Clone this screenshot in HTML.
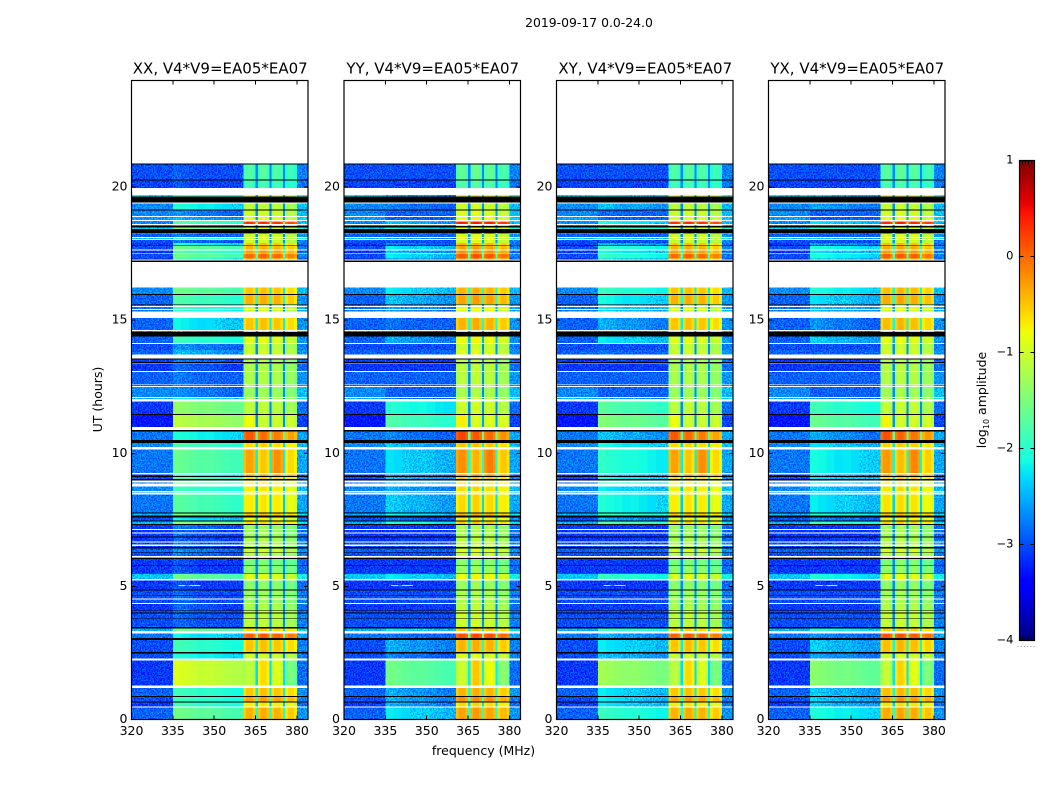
<!DOCTYPE html>
<html lang="en">
<head>
<meta charset="utf-8">
<title>2019-09-17 0.0-24.0</title>
<style>
html,body{margin:0;padding:0;background:#fff;}
svg{display:block;font-family:"DejaVu Sans","Liberation Sans",sans-serif;fill:#000;}
text{font-size:12.5px;}
</style>
</head>
<body>
<svg id="chart" width="1050" height="800" viewBox="0 0 1050 800" xmlns="http://www.w3.org/2000/svg">
  <defs>
    <filter id="grain" filterUnits="userSpaceOnUse" x="0" y="0" width="1050" height="800" color-interpolation-filters="sRGB">
      <feTurbulence type="fractalNoise" baseFrequency="0.75 0.65" numOctaves="1" seed="4" result="t"/>
      <feColorMatrix in="t" type="matrix" values="0 0 0 0 0.5  2.6 0 0 0 -0.8  0 0 0 0 0.5  0 0 0 0 1" result="n"/>
      <feComposite in="SourceGraphic" in2="n" operator="arithmetic" k1="0" k2="1" k3="0.5" k4="-0.25" result="m"/>
      <feComposite in="m" in2="SourceGraphic" operator="in"/>
    </filter>
    <linearGradient id="cb-gradient" x1="0" y1="1" x2="0" y2="0"></linearGradient>
  </defs>
  <rect x="0" y="0" width="1050" height="800" fill="#fff"/>
  <text x="589" y="27" text-anchor="middle" style="font-size:12.4px">2019-09-17 0.0-24.0</text>
  <text transform="translate(102,399.5) rotate(-90)" text-anchor="middle">UT (hours)</text>
  <text x="483.5" y="755" text-anchor="middle">frequency (MHz)</text>
  <text transform="translate(986,400) rotate(-90)" text-anchor="middle">log<tspan dy="3" style="font-size:8px">10</tspan><tspan dy="-3"> amplitude</tspan></text>
  <g id="noise-layer" filter="url(#grain)" shape-rendering="crispEdges"></g>
  <g id="clean-layer" shape-rendering="crispEdges"></g>
  <g id="frame-layer"></g>
  <g id="colorbar"></g>
</svg>
<script>
// Panel titles and axes
const panelNames = ["XX, V4*V9=EA05*EA07", "YY, V4*V9=EA05*EA07", "XY, V4*V9=EA05*EA07", "YX, V4*V9=EA05*EA07"];
const freqTicks = [320, 335, 350, 365, 380];
const utTicks = [0, 5, 10, 15, 20];
const colorbarTicks = [-4, -3, -2, -1, 0, 1];

// W = no data (white), K = flagged row (black)
const W = null;
const K = -9;

// Upper edge (UT hours) of each time band; each band runs down to the next entry, last band ends at 0
const utTop = [
20.88,20.85,20.29,20.24,19.96,19.70,19.64,19.42,19.38,19.15,
19.12,18.91,18.87,18.76,18.72,18.68,18.61,18.57,18.53,18.48,
18.42,18.28,18.23,18.12,18.09,18.05,18.01,17.89,17.81,17.78,
17.65,17.61,17.52,17.50,17.31,17.27,17.24,17.18,16.22,15.98,
15.94,15.60,15.58,15.53,15.50,15.41,15.38,15.32,15.08,14.62,
14.59,14.55,14.38,14.14,14.10,13.87,13.70,13.55,13.53,13.42,
13.38,13.35,13.08,13.05,12.59,12.56,12.52,12.48,12.11,12.07,
12.03,11.95,11.47,11.43,10.98,10.88,10.81,10.49,10.38,10.23,
10.15,9.25,9.21,9.14,9.10,9.04,8.98,8.91,8.87,8.76,
8.59,8.55,8.52,8.46,7.78,7.74,7.67,7.59,7.48,7.44,
7.35,7.31,7.16,7.12,7.03,6.99,6.88,6.84,6.69,6.65,
6.58,6.52,6.47,6.43,6.30,6.28,6.14,6.09,6.06,6.03,
5.81,5.78,5.51,5.48,5.28,5.23,4.89,4.85,4.68,4.65,
4.54,4.50,4.37,4.33,4.10,4.07,4.01,3.98,3.82,3.80,
3.48,3.42,3.33,3.23,3.06,2.99,2.54,2.48,2.29,2.22,
1.28,1.18,0.88,0.85,0.68,0.64,0.49,0.45];

// log10 amplitude of the 320-335 MHz band per time band
const lowBand = [
K,-3.0,K,-3.05,W,-2.3,K,W,-2.7,K,
-2.7,W,-2.6,W,-2.6,-2.7,W,-2.9,K,-2.3,
K,-2.7,-2.9,W,-2.4,W,-3.0,-3.1,K,-3.0,
W,-3.1,W,-3.0,-3.3,W,K,W,-2.7,K,
-2.9,K,-2.9,W,-2.8,W,-2.8,W,-2.9,W,
-2.8,K,-2.9,W,-3.0,-2.9,W,K,-3.1,K,
W,-3.1,W,-2.9,W,-2.9,W,-2.7,W,-2.5,
W,-3.1,K,-3.3,W,K,-2.8,K,-2.7,W,
-2.8,W,-3.3,K,-3.0,K,W,-2.8,W,-2.7,
W,-2.6,W,-2.8,K,-2.5,K,-3.0,K,-2.5,
K,-3.1,W,-3.1,W,-3.1,K,-3.1,W,-3.0,
W,-3.0,K,-2.9,K,-3.0,W,-3.1,K,-3.1,
K,-3.1,K,-2.4,W,-3.1,K,-3.0,K,-3.0,
W,-3.0,W,-3.1,K,-3.0,K,-3.0,K,-3.0,
K,-2.5,W,-2.8,K,-3.0,K,-3.0,W,-3.1,
W,-2.9,K,-3.0,K,-3.1,W,-2.9];

// log10 amplitude of the 335-360 MHz band per time band
const midBand = [
K,-3.05,K,-3.1,W,-2.0,K,W,-2.2,K,
-2.8,W,-2.6,W,-1.7,-1.9,W,-2.8,K,-1.6,
K,-2.7,-2.9,W,-2.0,W,-2.9,-2.2,K,-1.7,
W,-1.9,W,-1.7,-2.2,W,K,W,-1.7,K,
-1.9,K,-2.0,W,-2.0,W,-2.1,W,-2.3,W,
-2.7,K,-2.0,W,-2.8,-2.6,W,K,-2.9,K,
W,-3.0,W,-2.9,W,-2.8,W,-2.8,W,-2.3,
W,-1.5,K,-1.25,W,K,-2.2,K,-1.9,W,
-1.75,W,-2.2,K,-1.9,K,W,-1.8,W,-2.0,
W,-2.0,W,-1.85,K,-1.6,K,-2.3,K,-1.5,
K,-2.9,W,-3.0,W,-3.0,K,-3.0,W,-2.9,
W,-3.0,K,-2.8,K,-2.9,W,-3.1,K,-3.1,
K,-3.1,K,-1.7,W,-3.1,K,-3.0,K,-3.0,
W,-3.0,W,-3.0,K,-2.9,K,-3.0,K,-3.0,
K,-1.7,W,-2.3,K,-2.0,K,-2.2,W,-1.05,
W,-2.0,K,-2.0,K,-2.0,W,-1.7];

// log10 amplitude of the four 360-380 MHz blocks per time band (one value or one per block)
const blockBand = [
K,-1.75,K,-1.85,W,-0.8,K,W,-1.1,K,
-1.0,W,-0.9,W,-0.5,0.3,W,-1.0,K,-0.9,
K,0.1,-1.0,W,-1.0,W,-1.0,-0.5,K,-0.4,
W,-0.3,W,0.0,-0.5,W,K,W,-0.5,K,
-0.4,K,-1.0,W,-0.9,W,-1.0,W,-0.5,W,
-1.1,K,-0.9,W,-1.1,-1.0,W,K,-1.2,K,
W,-1.2,W,-1.2,W,-1.2,W,-1.3,W,-1.2,
W,-1.1,K,[-0.8,-1,-1,-1],W,K,[0.1,0,-0.1,-0.3],K,-0.6,W,
[-0.3,-0.5,-0.2,-0.6],W,-0.2,K,-0.6,K,W,-0.7,W,-0.7,
W,-0.8,W,-0.7,K,-0.5,K,-0.8,K,-0.6,
K,-1.3,W,-1.3,W,-1.3,K,-1.2,W,-1.2,
W,-1.2,K,-1.0,K,-1.1,W,-1.3,K,-1.5,
K,-1.4,K,-0.9,W,-1.4,K,-1.3,K,-1.3,
W,-1.3,W,-1.2,K,-1.0,K,-1.1,K,-1.1,
K,-0.6,W,0.05,K,-0.5,K,-1.0,W,[-1.1,-0.6,-0.9,-1.5],
W,-0.5,K,-0.3,K,-0.7,W,-0.4];

// Frequency layout read from the waterfall
const freqEdges = [320, 335, 338, 341, 344, 347, 350, 353, 356, 360.6, 361.6, 364, 365, 365.8, 366.8, 369, 370, 370.7, 371.7, 374, 375, 375.7, 376.7, 379, 380, 384];
const channelKind = ["low", "mid", "mid", "mid", "mid", "mid", "mid", "mid", "mid", "e0", "b0", "e0", "notch", "e1", "b1", "e1", "notch", "e2", "b2", "e2", "notch", "e3", "b3", "e3", "tail"];
const midProfile = [0.15, 0.1, 0.05, 0, 0.02, -0.03, -0.08, -0.12];
const blockProfile = [0, 0.05, 0, -0.12];
const blockEdgeDrop = 0.15;
const tailLift = 0.25;
const notchDrop = 1.7;

// Per-correlation offsets
const midShift = [0, -0.65, -0.35, -0.5];
const blockShift = [0, 0.1, 0, 0.05];

// Narrow bright interference lines near 5 h
const sparkHour = [5.05, 5.05];
const sparkFrom = [337, 339.5];
const sparkTo = [345, 341];
const sparkValue = [-1.1, 0.2];

const panelLeft = [131.5, 344, 556.5, 768.5];
const panelWidth = 176.5;
const plotTop = 80.5;
const plotBottom = 719.5;
const xMin = 320, xMax = 384, yMin = 0, yMax = 24;
const cMin = -4, cMax = 1;

function xScale(f, p) { return panelLeft[p] + (f - xMin) / (xMax - xMin) * panelWidth; }
function yScale(h) { return plotBottom - (h - yMin) / (yMax - yMin) * (plotBottom - plotTop); }

function lerp(t, pts) {
  for (let i = 1; i < pts.length; i++) {
    if (t <= pts[i][0]) {
      const a = pts[i - 1], b = pts[i];
      return a[1] + (b[1] - a[1]) * (t - a[0]) / (b[0] - a[0]);
    }
  }
  return pts[pts.length - 1][1];
}
function jet(t) {
  t = Math.max(0, Math.min(1, t));
  const r = lerp(t, [[0, 0], [0.35, 0], [0.66, 1], [0.89, 1], [1, 0.5]]);
  const g = lerp(t, [[0, 0], [0.125, 0], [0.375, 1], [0.64, 1], [0.91, 0], [1, 0]]);
  const b = lerp(t, [[0, 0.5], [0.11, 1], [0.34, 1], [0.65, 0], [1, 0]]);
  return "rgb(" + Math.round(r * 255) + "," + Math.round(g * 255) + "," + Math.round(b * 255) + ")";
}
function colorOf(v) {
  if (v <= K) return "#000";
  return jet((v - cMin) / (cMax - cMin));
}

const NS = "http://www.w3.org/2000/svg";
const noiseLayer = document.getElementById("noise-layer");
const cleanLayer = document.getElementById("clean-layer");
const frameLayer = document.getElementById("frame-layer");
const colorbar = document.getElementById("colorbar");

function blockValue(row, idx, p) {
  const b = blockBand[row];
  const base = Array.isArray(b) ? b[idx] : b + blockProfile[idx];
  return base + blockShift[p];
}
function cellValue(row, col, p) {
  const kind = channelKind[col];
  if (kind === "low") return lowBand[row];
  if (kind === "tail") return lowBand[row] + tailLift;
  if (kind === "mid") {
    const floor = lowBand[row];
    return Math.max(Math.min(floor, -2.9), midBand[row] + midProfile[col - 1] + midShift[p]);
  }
  if (kind === "notch") {
    const b = blockBand[row];
    const ref = Array.isArray(b) ? b[1] : b;
    return Math.max(-2.7, ref - notchDrop + blockShift[p]);
  }
  const drop = kind[0] === "e" ? blockEdgeDrop : 0;
  return blockValue(row, Number(kind[1]), p) - drop;
}

// Heatmap cells
panelNames.forEach(function (name, p) {
  utTop.forEach(function (top, row) {
    const bottom = row + 1 < utTop.length ? utTop[row + 1] : 0;
    const y0 = yScale(top), y1 = yScale(bottom);
    const low = lowBand[row];
    if (low === W) return;
    if (low === K) {
      const bar = document.createElementNS(NS, "rect");
      bar.setAttribute("x", xScale(xMin, p));
      bar.setAttribute("y", y0);
      bar.setAttribute("width", panelWidth);
      bar.setAttribute("height", y1 - y0);
      bar.setAttribute("fill", "#000");
      
      
      cleanLayer.appendChild(bar);
      return;
    }
    channelKind.forEach(function (kind, col) {
      const x0 = xScale(freqEdges[col], p), x1 = xScale(freqEdges[col + 1], p);
      const value = cellValue(row, col, p);
      const cell = document.createElementNS(NS, "rect");
      cell.setAttribute("x", x0);
      cell.setAttribute("y", y0);
      cell.setAttribute("width", x1 - x0);
      cell.setAttribute("height", y1 - y0);
      cell.setAttribute("fill", colorOf(value));
      
      
      const noisy = kind === "low" || kind === "tail" || (kind === "mid" && value < -2.3);
      (noisy ? noiseLayer : cleanLayer).appendChild(cell);
    });
  });
  sparkHour.forEach(function (h, i) {
    const spark = document.createElementNS(NS, "rect");
    spark.setAttribute("x", xScale(sparkFrom[i], p));
    spark.setAttribute("y", yScale(h));
    spark.setAttribute("width", xScale(sparkTo[i], p) - xScale(sparkFrom[i], p));
    spark.setAttribute("height", 1);
    spark.setAttribute("fill", colorOf(sparkValue[i]));
    
    
    cleanLayer.appendChild(spark);
  });
});

function addLine(parent, x1, y1, x2, y2, name) {
  const l = document.createElementNS(NS, "line");
  l.setAttribute("x1", x1);
  l.setAttribute("y1", y1);
  l.setAttribute("x2", x2);
  l.setAttribute("y2", y2);
  l.setAttribute("stroke", "#000");
  l.setAttribute("stroke-width", "1");
  l.setAttribute("shape-rendering", "crispEdges");
  
  
  parent.appendChild(l);
}
function addText(parent, x, y, anchor, str, size, name) {
  const t = document.createElementNS(NS, "text");
  t.setAttribute("x", x);
  t.setAttribute("y", y);
  t.setAttribute("text-anchor", anchor);
  t.style.fontSize = size + "px";
  t.textContent = str;
  
  
  parent.appendChild(t);
}

// Frames, ticks, labels
panelNames.forEach(function (name, p) {
  const left = panelLeft[p], right = left + panelWidth;
  const frame = document.createElementNS(NS, "rect");
  frame.setAttribute("x", left);
  frame.setAttribute("y", plotTop);
  frame.setAttribute("width", panelWidth);
  frame.setAttribute("height", plotBottom - plotTop);
  frame.setAttribute("fill", "none");
  frame.setAttribute("stroke", "#000");
  frame.setAttribute("stroke-width", "1.2");
  
  
  frameLayer.appendChild(frame);

  addText(frameLayer, left + panelWidth / 2 + 0.5, 73.5, "middle", name, 15, "panel-title");

  freqTicks.forEach(function (f) {
    const x = xScale(f, p);
    addLine(frameLayer, x, plotBottom, x, plotBottom - 4, "x-tick");
    addLine(frameLayer, x, plotTop, x, plotTop + 4, "x-tick");
    addText(frameLayer, x, 735, "middle", String(f), 12.5, "x-tick-label");
  });
  utTicks.forEach(function (h) {
    const y = yScale(h);
    addLine(frameLayer, left, y, left + 4, y, "y-tick");
    addLine(frameLayer, right, y, right - 4, y, "y-tick");
    addText(frameLayer, left - 4, y + 3.5, "end", String(h), 12.5, "y-tick-label");
  });
});

// Colorbar
const cbLeft = 1019.5, cbWidth = 15, cbTop = 160.5, cbBottom = 640.5;
function cScale(v) { return cbBottom - (v - cMin) / (cMax - cMin) * (cbBottom - cbTop); }
const grad = document.getElementById("cb-gradient");
for (let i = 0; i <= 64; i++) {
  const stop = document.createElementNS(NS, "stop");
  stop.setAttribute("offset", (i / 64 * 100) + "%");
  stop.setAttribute("stop-color", jet(i / 64));
  grad.appendChild(stop);
}
const cbRect = document.createElementNS(NS, "rect");
cbRect.setAttribute("x", cbLeft);
cbRect.setAttribute("y", cbTop);
cbRect.setAttribute("width", cbWidth);
cbRect.setAttribute("height", cbBottom - cbTop);
cbRect.setAttribute("fill", "url(#cb-gradient)");
cbRect.setAttribute("stroke", "#000");
cbRect.setAttribute("stroke-width", "1.2");


colorbar.appendChild(cbRect);

colorbarTicks.forEach(function (v) {
  const y = cScale(v);
  addLine(colorbar, cbLeft, y, cbLeft + 4, y, "colorbar-tick");
  addLine(colorbar, cbLeft + cbWidth, y, cbLeft + cbWidth - 4, y, "colorbar-tick");
  addText(colorbar, cbLeft - 6, y + 3, "end", String(v).replace("-", "\u2212"), 11.5, "colorbar-tick-label");
});
for (let i = 1; i <= 4; i++) {
  const x = cbLeft + i * cbWidth / 5;
  addLine(colorbar, x, cbTop, x, cbTop + 4, "colorbar-edge-tick");
  addLine(colorbar, x, cbBottom, x, cbBottom - 4, "colorbar-edge-tick");
}
for (let i = 0; i < 6; i++) {
  const dot = document.createElementNS(NS, "rect");
  dot.setAttribute("x", 1017.5 + i * 3.2);
  dot.setAttribute("y", 646);
  dot.setAttribute("width", 1);
  dot.setAttribute("height", 1);
  dot.setAttribute("fill", "#999");
  
  
  colorbar.appendChild(dot);
}
</script>
</body>
</html>
